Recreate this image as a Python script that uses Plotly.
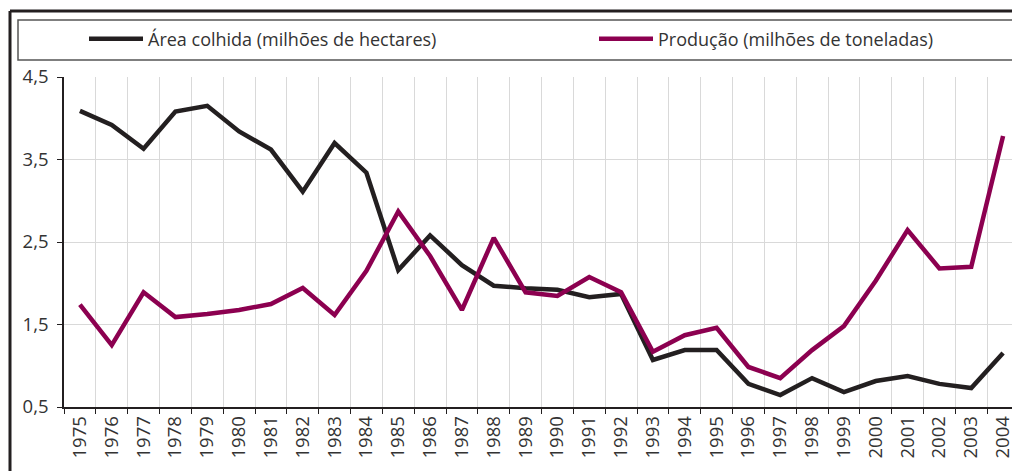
import plotly.graph_objects as go

years = [str(y) for y in range(1975, 2005)]
area_colhida = [4.09, 3.92, 3.63, 4.08, 4.15, 3.84, 3.62, 3.11, 3.70, 3.34,
                2.16, 2.58, 2.22, 1.97, 1.94, 1.92, 1.83, 1.87, 1.07, 1.19,
                1.19, 0.78, 0.645, 0.85, 0.68, 0.815, 0.876, 0.78, 0.73, 1.155]
producao = [1.74, 1.25, 1.89, 1.59, 1.627, 1.676, 1.748, 1.942, 1.615, 2.15,
            2.87, 2.33, 1.676, 2.55, 1.89, 1.845, 2.075, 1.89, 1.17, 1.37,
            1.46, 0.985, 0.85, 1.19, 1.48, 2.03, 2.645, 2.18, 2.20, 3.785]
series_names = ["Área colhida (milhões de hectares)", "Produção (milhões de toneladas)"]
y_ticks = [0.5, 1.5, 2.5, 3.5, 4.5]

BLACK = "#231f20"
MAGENTA = "#8c0050"
FONT = "Open Sans"
TXT = "#333333"

fig = go.Figure()
fig.add_trace(go.Scatter(x=years, y=area_colhida, mode="lines", name=series_names[0],
                         line=dict(color=BLACK, width=4.5), legend="legend"))
fig.add_trace(go.Scatter(x=years, y=producao, mode="lines", name=series_names[1],
                         line=dict(color=MAGENTA, width=4.5), legend="legend2"))

# page has an 8px body margin; figure sized to fill the rest of the 1020x471 window
OFF = 8
W, H = 1020 - OFF, 471 - OFF
PL, PR, PT, PB = 64, 1019, 77, 407   # plot area in window pixels
L, R, T, B = PL - OFF, (OFF + W) - PR, PT - OFF, (OFF + H) - PB
pw = PR - PL
ph = PB - PT

def px(x):
    return (x - PL) / pw

def py(y):
    return (PB - y) / ph

shapes = [
    dict(type="line", xref="paper", yref="paper", x0=px(10), x1=px(1020), y0=py(11), y1=py(11),
         line=dict(color=BLACK, width=3)),
    dict(type="line", xref="paper", yref="paper", x0=px(10), x1=px(10), y0=py(11), y1=py(471),
         line=dict(color=BLACK, width=3)),
    dict(type="rect", xref="paper", yref="paper", x0=px(18), x1=px(1018), y0=py(60), y1=py(20),
         line=dict(color="#555555", width=1.5), fillcolor="rgba(0,0,0,0)"),
]

legend_common = dict(orientation="h", yanchor="middle", xanchor="left", itemwidth=54,
                     font=dict(family=FONT, size=18, color=TXT),
                     bgcolor="rgba(0,0,0,0)", borderwidth=0)

fig.update_layout(
    width=W, height=H,
    margin=dict(l=L, r=R, t=T, b=B, autoexpand=False),
    paper_bgcolor="white", plot_bgcolor="white",
    separators=",.",
    font=dict(family=FONT, size=18.5, color=TXT),
    showlegend=True,
    legend=dict(x=px(84), y=py(39), **legend_common),
    legend2=dict(x=px(594), y=py(39), **legend_common),
    shapes=shapes,
)
fig.update_xaxes(type="category", range=[-0.5, len(years) - 0.5], tickson="boundaries",
                 ticks="outside", ticklen=5,
                 tickcolor=BLACK, showline=True, linecolor=BLACK, linewidth=1.5,
                 showgrid=True, gridcolor="#d9d9d9", gridwidth=1, tickangle=-90,
                 tickfont=dict(family=FONT, size=18.5, color=TXT), zeroline=False,
                 automargin=False)
fig.update_yaxes(range=[0.5, 4.5], tickvals=y_ticks, tickformat=".1f", ticks="outside",
                 ticklen=5, tickcolor=BLACK, showline=True, linecolor=BLACK, linewidth=1.5,
                 showgrid=True, gridcolor="#d9d9d9", gridwidth=1, zeroline=False,
                 tickfont=dict(family=FONT, size=18.5, color=TXT), ticklabelstandoff=5,
                 automargin=False)

fig.write_html("out.html")
